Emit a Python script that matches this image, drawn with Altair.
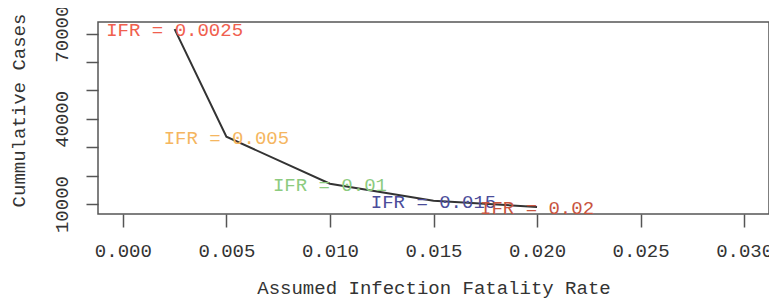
import altair as alt
import pandas as pd

ifr = [0.0025, 0.005, 0.01, 0.015, 0.02]
cases = [71600, 33700, 17150, 11200, 9000]
labels = ["IFR = 0.0025", "IFR = 0.005", "IFR = 0.01", "IFR = 0.015", "IFR = 0.02"]
label_colors = ["#F0604E", "#F5B660", "#8CCB7F", "#4B4D9A", "#C8553F"]

x_ticks = [0.0, 0.005, 0.01, 0.015, 0.02, 0.025, 0.03]
y_ticks = [10000, 20000, 30000, 40000, 50000, 60000, 70000]
y_labeled = [10000, 40000, 70000]

df = pd.DataFrame({"ifr": ifr, "cases": cases, "label": labels})

FONT = "Liberation Mono"
FS = 19

lab_expr = " || ".join(f"datum.value == {v}" for v in y_labeled)

x_enc = alt.X(
    "ifr:Q",
    scale=alt.Scale(domain=[-0.0012, 0.0312], nice=False, zero=False),
    axis=alt.Axis(
        values=x_ticks, format=".3f", title="Assumed Infection Fatality Rate",
        grid=False, domain=False, tickSize=13, tickWidth=1.5, tickColor="#555",
        labelFont=FONT, labelFontSize=FS, labelColor="#333", labelPadding=14,
        labelFlush=False, labelOverlap=False,
        titleFont=FONT, titleFontSize=FS, titleFontWeight="normal", titleColor="#333",
        titlePadding=18,
    ),
)
y_enc = alt.Y(
    "cases:Q",
    scale=alt.Scale(domain=[6500, 74100], nice=False, zero=False),
    axis=alt.Axis(
        values=y_ticks, format="d", title="Cummulative Cases",
        labelExpr=f"({lab_expr}) ? datum.label : ''",
        grid=False, domain=False, tickSize=12, tickWidth=1.5, tickColor="#555",
        labelFont=FONT, labelFontSize=FS, labelColor="#333", labelAngle=270,
        labelAlign="center", labelBaseline="bottom", labelPadding=15,
        labelFlush=False, labelOverlap=False,
        titleFont=FONT, titleFontSize=FS, titleFontWeight="normal", titleColor="#333",
        titleAngle=270, titleAlign="center", titleBaseline="middle",
        titleX=-80, titleY=88,
    ),
)

line = alt.Chart(df).mark_line(color="#333", strokeWidth=2).encode(x=x_enc, y=y_enc)

text = alt.Chart(df).mark_text(font=FONT, fontSize=FS, align="center", baseline="middle", dy=1).encode(
    x=x_enc,
    y=y_enc,
    text="label:N",
    color=alt.Color("label:N", scale=alt.Scale(domain=labels, range=label_colors), legend=None),
)

chart = alt.layer(line, text).properties(
    width=671, height=192,
    autosize=alt.AutoSizeParams(type="none"),
    padding={"left": 90, "top": 14, "right": 0, "bottom": 84},
).configure_view(stroke="#555", strokeWidth=1.5)

chart.save("out.html", embed_options={"renderer": "svg", "actions": False})
